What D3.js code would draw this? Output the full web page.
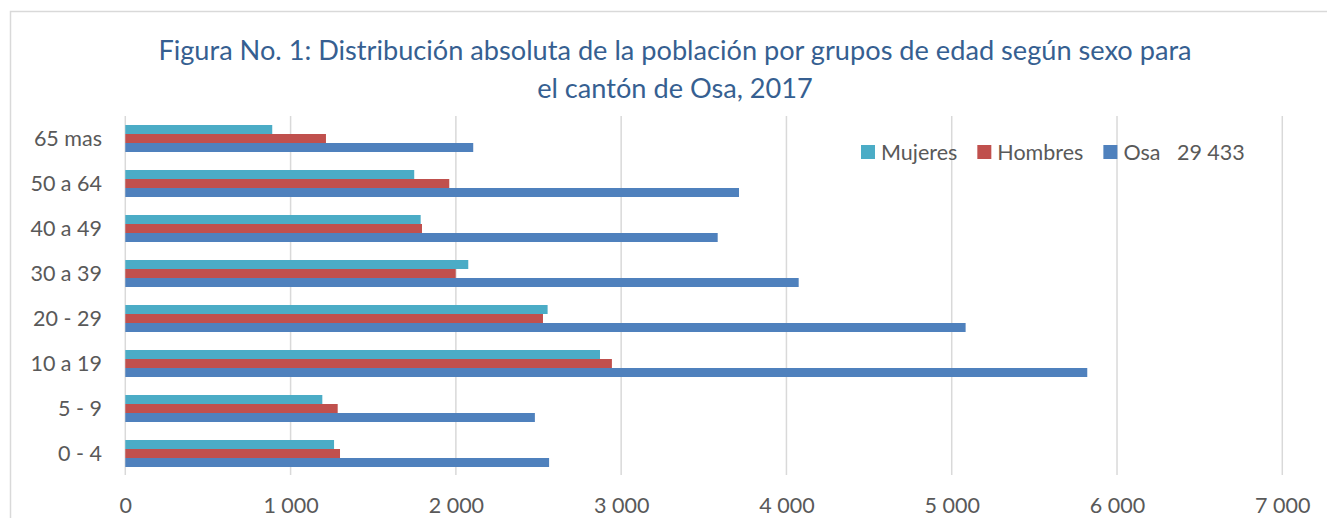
<!DOCTYPE html>
<html>
<head>
<meta charset="utf-8">
<script src="https://cdn.jsdelivr.net/npm/d3@7"></script>
<style>
  html, body { margin: 0; padding: 0; background: #ffffff; }
  svg { display: block; }
  text { font-family: Lato, "Open Sans", sans-serif; }
</style>
</head>
<body>
<svg id="chart" width="1327" height="518"></svg>
<script>
// ---- data ----
const categories = ["0 - 4", "5 - 9", "10 a 19", "20 - 29", "30 a 39", "40 a 49", "50 a 64", "65 mas"];
const seriesNames = ["Mujeres", "Hombres", "Osa"];
const legendLabels = ["Mujeres", "Hombres", "Osa   29 433"];
const mujeres = [1263, 1192, 2872, 2555, 2075, 1787, 1748, 889];
const hombres = [1299, 1285, 2944, 2527, 1999, 1795, 1960, 1214];
const osa     = [2564, 2478, 5820, 5084, 4074, 3584, 3713, 2105];
const xTicks = [0, 1000, 2000, 3000, 4000, 5000, 6000, 7000];
const titleLines = ["Figura No. 1: Distribución absoluta de la población por grupos de edad según sexo para",
                    "el cantón de Osa, 2017"];

const seriesValues = [mujeres, hombres, osa];
const colors = ["#4BACC6", "#C0504D", "#4F81BD"];

// ---- layout ----
const svg = d3.select("#chart");
const plot = { left: 125.3, right: 1282.3, top: 116, bottom: 476 };

svg.append("rect")
  .attr("x", 10.5).attr("y", 11.5)
  .attr("width", 1340).attr("height", 530)
  .attr("fill", "none").attr("stroke", "#d9d9d9").attr("stroke-width", 1.5);

const x = d3.scaleLinear().domain([0, 7000]).range([plot.left, plot.right]);
const y = d3.scaleBand()
  .domain(categories.slice().reverse())
  .range([plot.top, plot.bottom])
  .paddingInner(0.4).paddingOuter(0.2);
const yInner = d3.scaleBand().domain(seriesNames).range([0, y.bandwidth()]);

// gridlines
svg.append("g").selectAll("line").data(xTicks).join("line")
  .attr("x1", d => x(d)).attr("x2", d => x(d))
  .attr("y1", plot.top).attr("y2", plot.bottom - 1)
  .attr("stroke", "#d9d9d9").attr("stroke-width", 1.5);

// x axis labels
const fmt = d => d3.format(",")(d).replace(/,/g, " ");
const xAxis = d3.axisBottom(x).tickValues(xTicks).tickFormat(fmt).tickSize(0).tickPadding(0);
const gx = svg.append("g").attr("transform", `translate(0, 513)`).call(xAxis);
gx.select(".domain").remove();
gx.selectAll("text")
  .attr("dy", 0).attr("y", 0)
  .attr("font-size", 21.5).attr("fill", "#595959")
  .style("font-family", "Lato, sans-serif");

// y axis labels
const yAxis = d3.axisLeft(y).tickSize(0).tickPadding(0);
const gy = svg.append("g").attr("transform", `translate(102, 0)`).call(yAxis);
gy.select(".domain").remove();
gy.selectAll("text")
  .attr("x", 0).attr("dy", "0.36em")
  .attr("font-size", 21.5).attr("fill", "#595959")
  .style("font-family", "Lato, sans-serif");

// bars
const rows = [];
categories.forEach((c, i) => {
  seriesNames.forEach((s, j) => rows.push({ cat: c, series: s, value: seriesValues[j][i], color: colors[j] }));
});
svg.append("g").selectAll("rect").data(rows).join("rect")
  .attr("x", x(0))
  .attr("y", d => y(d.cat) + yInner(d.series))
  .attr("width", d => x(d.value) - x(0))
  .attr("height", yInner.bandwidth())
  .attr("fill", d => d.color);

// title
const title = svg.append("g");
const tLines = title.selectAll("text").data(titleLines).join("text")
  .attr("x", 675).attr("y", (d, i) => 60 + i * 38)
  .attr("text-anchor", "middle")
  .attr("font-size", 24)
  .attr("fill", "#365F91")
  .text(d => d);
// fit title width
const w0 = tLines.nodes()[0].getComputedTextLength();
const fs = 24 * 1034 / w0;
tLines.attr("font-size", fs);

// legend
const legend = svg.append("g");
let lx = 861;
seriesNames.forEach((s, j) => {
  legend.append("rect").attr("x", lx).attr("y", 145).attr("width", 14).attr("height", 14).attr("fill", colors[j]);
  const t = legend.append("text")
    .attr("x", lx + 20).attr("y", 152)
    .attr("dy", "0.36em")
    .attr("font-size", 21.5).attr("fill", "#595959")
    .style("white-space", "pre")
    .attr("xml:space", "preserve")
    .text(legendLabels[j]);
  lx = lx + 20 + t.node().getComputedTextLength() + 20;
});
</script>
</body>
</html>
